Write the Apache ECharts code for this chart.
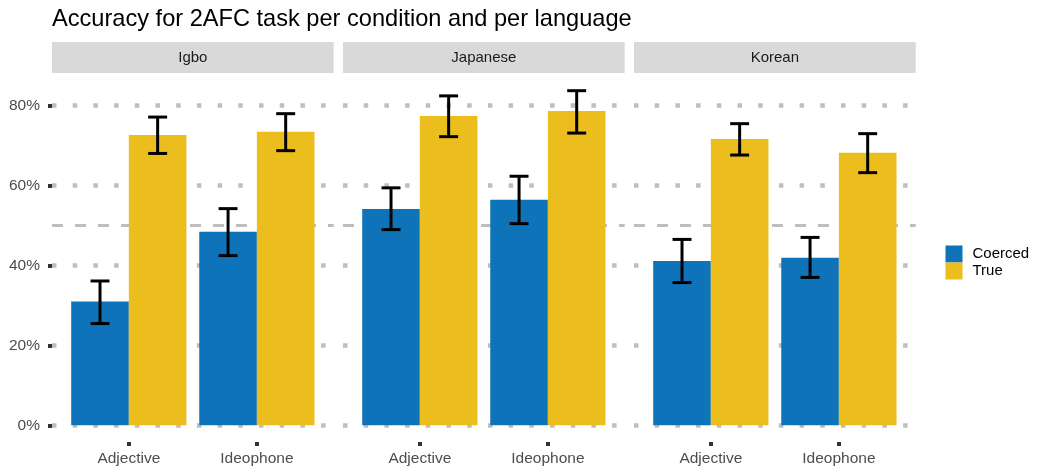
<!DOCTYPE html>
<html>
<head>
<meta charset="utf-8">
<script src="https://cdn.jsdelivr.net/npm/echarts@6/dist/echarts.min.js"></script>
<style>
  html, body { margin: 0; padding: 0; background: #ffffff; }
  #chart { width: 1040px; height: 467px; }
</style>
</head>
<body>
<div id="chart"></div>
<script>
// Accuracy (%) per language (rows) and condition (columns)
const languages = ['Igbo', 'Japanese', 'Korean'];
const conditions = ['Adjective', 'Ideophone'];
const seriesNames = ['Coerced', 'True'];

const coercedMean = [[30.95, 48.4], [54.1, 56.4], [41.1, 41.9]];
const coercedLow  = [[25.45, 42.45], [48.95, 50.45], [35.7, 37.0]];
const coercedHigh = [[36.1, 54.2], [59.4, 62.3], [46.5, 47.0]];

const trueMean = [[72.6, 73.4], [77.4, 78.6], [71.6, 68.2]];
const trueLow  = [[68.0, 68.7], [72.2, 73.1], [67.6, 63.2]];
const trueHigh = [[77.1, 77.95], [82.4, 83.7], [75.45, 72.95]];

const yTicks = [0, 20, 40, 60, 80];
const chanceLevel = 50;

// Layout
const FONT = '"Liberation Sans", Arial, Helvetica, sans-serif';
const BLUE = '#0f73ba';
const YELLOW = '#ebbe1e';
const GRID_GREY = '#bebebe';
const panelLeft0 = 52, panelStep = 291, panelW = 281.7;
const panelTop = 74, panelBottom = 24.8;
const yMin = -4.175, yMax = 87.875;
const unit = panelW / 2.2; // width of one category on the discrete scale

const chart = echarts.init(document.getElementById('chart'), null, { renderer: 'canvas' });

const grids = [], xAxes = [], yAxes = [], series = [], graphics = [];

languages.forEach((lang, i) => {
  const left = panelLeft0 + panelStep * i;
  // outer panel (background lines) and inner panel (bars)
  grids.push({ left: left, width: panelW, top: panelTop, bottom: panelBottom, containLabel: false });
  grids.push({ left: left + 0.1 * unit, width: 2 * unit, top: panelTop, bottom: panelBottom, containLabel: false });
  const outer = 2 * i, inner = 2 * i + 1;

  xAxes.push({ gridIndex: outer, type: 'value', min: 0, max: 1, show: false });
  xAxes.push({
    gridIndex: inner, type: 'category', data: conditions, boundaryGap: true, position: 'bottom',
    axisLine: { show: false, onZero: false },
    axisTick: { show: true, alignWithLabel: true, length: 4, lineStyle: { color: '#333333', width: 4 } },
    axisLabel: { show: true, margin: 9, fontSize: 15.5, color: '#4d4d4d', fontFamily: FONT },
    splitLine: { show: false }
  });

  yAxes.push({
    gridIndex: outer, type: 'value', min: yMin, max: yMax,
    axisLine: { show: false },
    axisTick: { show: i === 0, customValues: yTicks, length: 4, lineStyle: { color: '#333333', width: 4 } },
    axisLabel: {
      show: i === 0, customValues: yTicks, margin: 12, fontSize: 15.5, color: '#4d4d4d', fontFamily: FONT,
      formatter: v => v + '%'
    },
    splitLine: { show: false }
  });
  yAxes.push({ gridIndex: inner, type: 'value', min: yMin, max: yMax, show: false, splitLine: { show: false } });

  // horizontal dotted grid lines and dashed chance line, kept behind the bars
  series.push({
    type: 'line', xAxisIndex: outer, yAxisIndex: outer, data: [], silent: true, z: 1,
    markLine: {
      silent: true, z: 1, symbol: ['none', 'none'], label: { show: false },
      lineStyle: { color: GRID_GREY, width: 4.5, type: [4.5, 16.2], opacity: 1 },
      emphasis: { disabled: true },
      data: yTicks.map(v => ({ yAxis: v }))
    }
  });
  series.push({
    type: 'line', xAxisIndex: outer, yAxisIndex: outer, data: [], silent: true, z: 1,
    markLine: {
      silent: true, z: 1, symbol: ['none', 'none'], label: { show: false },
      lineStyle: { color: GRID_GREY, width: 3, type: [11, 12], opacity: 1 },
      emphasis: { disabled: true },
      data: [{ yAxis: chanceLevel }]
    }
  });

  const means = [coercedMean[i], trueMean[i]];
  const lows = [coercedLow[i], trueLow[i]];
  const highs = [coercedHigh[i], trueHigh[i]];
  const colors = [BLUE, YELLOW];

  seriesNames.forEach((name, s) => {
    series.push({
      name: name, type: 'bar', xAxisIndex: inner, yAxisIndex: inner,
      data: means[s], barCategoryGap: '10%', barGap: '0%', z: 10,
      itemStyle: { color: colors[s] }, silent: true
    });
  });

  // error bars, dodged like the bars
  const errData = [];
  seriesNames.forEach((name, s) => {
    conditions.forEach((c, k) => errData.push([k, lows[s][k], highs[s][k], s]));
  });
  series.push({
    type: 'custom', xAxisIndex: inner, yAxisIndex: inner, z: 11, silent: true,
    data: errData,
    encode: { x: 0, y: [1, 2] },
    renderItem: (params, api) => {
      const k = api.value(0), s = api.value(3);
      const band = api.size([1, 0])[0];
      const lo = api.coord([k, api.value(1)]);
      const hi = api.coord([k, api.value(2)]);
      const x = lo[0] + (s === 0 ? -0.225 : 0.225) * band;
      const hw = 0.074 * band;
      const style = { stroke: '#000000', lineWidth: 3 };
      return {
        type: 'group',
        children: [
          { type: 'line', shape: { x1: x, y1: lo[1], x2: x, y2: hi[1] }, style: style },
          { type: 'line', shape: { x1: x - hw, y1: hi[1], x2: x + hw, y2: hi[1] }, style: style },
          { type: 'line', shape: { x1: x - hw, y1: lo[1], x2: x + hw, y2: lo[1] }, style: style }
        ]
      };
    }
  });

  // facet strip
  graphics.push({
    type: 'rect', left: left, top: 42, shape: { width: panelW, height: 31 },
    style: { fill: '#d9d9d9' }, silent: true
  });
  graphics.push({
    type: 'text', x: left + panelW / 2, y: 57.5,
    style: { text: lang, fill: '#1a1a1a', font: '15px ' + FONT, align: 'center', verticalAlign: 'middle' },
    silent: true
  });
});

chart.setOption({
  animation: false,
  backgroundColor: '#ffffff',
  title: {
    text: 'Accuracy for 2AFC task per condition and per language',
    left: 52, top: 7, padding: 0,
    textStyle: { fontSize: 23.6, fontWeight: 'normal', color: '#000000', fontFamily: FONT }
  },
  legend: {
    data: seriesNames, orient: 'vertical', left: 945.5, top: 245.5, padding: 0,
    icon: 'rect', itemWidth: 17, itemHeight: 17, itemGap: 0,
    selectedMode: false,
    textStyle: { fontSize: 15, color: '#000000', fontFamily: FONT, padding: [0, 0, 0, 5] }
  },
  grid: grids,
  xAxis: xAxes,
  yAxis: yAxes,
  series: series,
  graphic: graphics
});
</script>
</body>
</html>
